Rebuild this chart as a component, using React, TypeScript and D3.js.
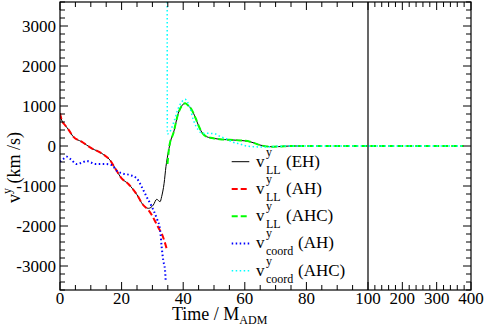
import React from "react";
import * as d3 from "d3";

// ---- data (time in M_ADM, velocity in km/s) ----
const vLL_EH: [number, number][] = [
  [0, 817], [0.54, 650], [1.6, 525], [2.7, 417], [4.3, 233], [7, 108], [10.3, -58],
  [13.5, -183], [16.2, -350], [17.9, -558], [20, -808], [22.2, -950], [24.9, -1208],
  [27, -1475], [28.7, -1558], [30.3, -1475], [31.4, -1333], [32.5, -1392], [33, -1267],
  [33.8, -933], [34.4, -517], [35.2, -142], [36.0, 150], [36.8, 317], [38.4, 817],
  [39.5, 1000], [40.6, 1067], [41.8, 1000], [42.8, 900], [44, 700], [44.9, 525],
  [46, 350], [47.6, 233], [50, 190], [51.9, 167], [55, 155], [58.4, 140], [61.7, 108],
  [64.9, 25], [68.2, -17], [71, -15], [74.7, 0], [78.4, 0],
];

const vLL_AH: [number, number][] = [
  [0, 817], [0.54, 650], [1.6, 525], [2.7, 417], [4.3, 233], [7, 108], [10.3, -58],
  [13.5, -183], [16.2, -350], [17.9, -558], [20, -808], [22.2, -950], [24.9, -1208],
  [27, -1475], [28.7, -1600], [29.8, -1725], [31, -1900], [32, -2050], [33, -2183],
  [34, -2400], [34.6, -2558],
];

const vLL_AHC: [number, number][] = [
  [34.9, -450], [35.5, 0], [36.8, 317], [38.4, 817], [39.5, 1000], [40.6, 1067],
  [41.8, 1000], [42.8, 900], [44, 700], [44.9, 525], [46, 350], [47.6, 233], [50, 190],
  [51.9, 167], [55, 155], [58.4, 140], [61.7, 108], [64.9, 25], [68.2, -17], [71, -15],
  [74.7, 0], [100, 0], [200, 0], [300, 0], [378, 0],
];

const vCoord_AH: [number, number][] = [
  [0, -392], [1, -330], [2.2, -267], [3.5, -330], [5.4, -450], [7, -420], [8.7, -375],
  [10, -410], [11.4, -450], [14.6, -450], [16.8, -475], [18.4, -617], [20, -683],
  [22.7, -725], [24.9, -808], [26.5, -1017], [28.1, -1267], [29.8, -1517], [31.4, -1808],
  [32.5, -2100], [33, -2517], [33.5, -2850], [34.1, -3100], [34.3, -3350],
];

const vCoord_AHC: [number, number][] = [
  [34.8, 3600], [34.85, 300], [35.5, 330], [36.8, 567], [38.4, 942], [39.5, 1100],
  [40.6, 1167], [42, 1000], [43.3, 650], [44.9, 400], [46.5, 310], [48.2, 317],
  [50.5, 300], [52, 240], [54, 180], [56, 100], [58.4, 50], [60.5, 0], [62.8, -17],
  [66, -25], [70, -10], [75, 0], [100, 0], [200, 0], [300, 0], [378, 0],
];

const yMajorTicks = [-3000, -2000, -1000, 0, 1000, 2000, 3000];
const xMajorLeft = [0, 20, 40, 60, 80];
const xMajorRight = [100, 200, 300, 400];

const legendItems = [
  { sub: "LL", src: "(EH)", color: "#000000", width: 1, dash: "" },
  { sub: "LL", src: "(AH)", color: "#ff0000", width: 2, dash: "6,3" },
  { sub: "LL", src: "(AHC)", color: "#00ff00", width: 2, dash: "6,3" },
  { sub: "coord", src: "(AH)", color: "#0000ff", width: 2, dash: "1.5,2.5" },
  { sub: "coord", src: "(AHC)", color: "#00ffff", width: 1.5, dash: "1.5,2.5" },
];

const series = [vLL_EH, vLL_AH, vLL_AHC, vCoord_AH, vCoord_AHC];

const FONT = "Liberation Serif";

export default function App() {
  const W = 485, H = 330;
  const left = 60, mid = 368, right = 471, top = 2, bottom = 290;
  const x = d3.scaleLinear().domain([0, 100, 400]).range([left, mid, right]);
  const y = d3.scaleLinear().domain([-3600, 3600]).range([bottom, top]);
  const line = d3
    .line<[number, number]>()
    .x((d) => x(d[0]))
    .y((d) => y(d[1]))
    .curve(d3.curveMonotoneX);

  const yMinor = d3.range(-3600, 3601, 200);
  const xMinorLeft = d3.range(0, 100, 5);
  const xMinorRight = d3.range(100, 401, 20);

  const tick = (k: string, x1: number, y1: number, x2: number, y2: number) => (
    <line key={k} x1={x1} y1={y1} x2={x2} y2={y2} stroke="#000" strokeWidth={1} />
  );

  const ticks: any[] = [];
  yMinor.forEach((v) => {
    const major = v % 1000 === 0;
    const len = major ? 8 : 5;
    ticks.push(tick(`yl${v}`, left, y(v), left + len, y(v)));
    ticks.push(tick(`yr${v}`, right, y(v), right - len, y(v)));
  });
  [...xMinorLeft, ...xMinorRight].forEach((t, i) => {
    const major = xMajorLeft.includes(t) || xMajorRight.includes(t);
    const len = major ? 8 : 5;
    ticks.push(tick(`xb${i}`, x(t), bottom, x(t), bottom - len));
    ticks.push(tick(`xt${i}`, x(t), top, x(t), top + len));
  });

  const legX0 = 231.7, legX1 = 249.3, legY0 = 161.7, legDy = 27.25;

  return (
    <svg width={W} height={H} style={{ position: "absolute", left: 0, top: 0, background: "#fff" }}>
      <defs>
        <clipPath id="plot">
          <rect x={left} y={top} width={right - left} height={bottom - top} />
        </clipPath>
      </defs>
      <rect x={0} y={0} width={W} height={H} fill="#fff" />
      <g clipPath="url(#plot)">
        {series.map((s, i) => (
          <path
            key={i}
            d={line(s) || ""}
            fill="none"
            stroke={legendItems[i].color}
            strokeWidth={legendItems[i].width}
            strokeDasharray={legendItems[i].dash || undefined}
          />
        ))}
      </g>
      {/* frame */}
      <rect x={left} y={top} width={right - left} height={bottom - top} fill="none" stroke="#000" strokeWidth={1.2} />
      <line x1={mid} y1={top} x2={mid} y2={bottom} stroke="#000" strokeWidth={1.2} />
      {ticks}
      {/* y tick labels */}
      {yMajorTicks.map((v) => (
        <text key={v} x={56} y={y(v)} dy="0.36em" textAnchor="end" fontSize={17} fontFamily={FONT}>
          {v}
        </text>
      ))}
      {/* x tick labels */}
      {[...xMajorLeft, ...xMajorRight].map((t) => (
        <text key={t} x={x(t)} y={304} textAnchor="middle" fontSize={17} fontFamily={FONT}>
          {t}
        </text>
      ))}
      {/* x title */}
      <text x={172} y={320} fontSize={18} fontFamily={FONT}>
        {"Time / M"}
        <tspan dy={4} fontSize={12}>ADM</tspan>
      </text>
      {/* y title */}
      <text transform="translate(20,203) rotate(-90)" fontSize={18} fontFamily={FONT}>
        {"v"}
        <tspan dy={-9} fontSize={12}>y</tspan>
        <tspan dy={9}>{"\u00a0(km /s)"}</tspan>
      </text>
      {/* legend */}
      {legendItems.map((it, i) => {
        const ly = legY0 + i * legDy;
        const subW = it.sub === "LL" ? 15 : 27;
        return (
          <g key={i}>
            <line
              x1={legX0}
              x2={legX1}
              y1={ly}
              y2={ly}
              stroke={it.color}
              strokeWidth={it.width}
              strokeDasharray={it.dash || undefined}
            />
            <text x={256} y={ly + 5} fontSize={17} fontFamily={FONT}>v</text>
            <text x={266} y={ly - 6} fontSize={12} fontFamily={FONT}>y</text>
            <text x={266} y={ly + 12} fontSize={12} fontFamily={FONT}>{it.sub}</text>
            <text x={266 + subW + 5} y={ly + 5} fontSize={17} fontFamily={FONT}>{it.src}</text>
          </g>
        );
      })}
    </svg>
  );
}
